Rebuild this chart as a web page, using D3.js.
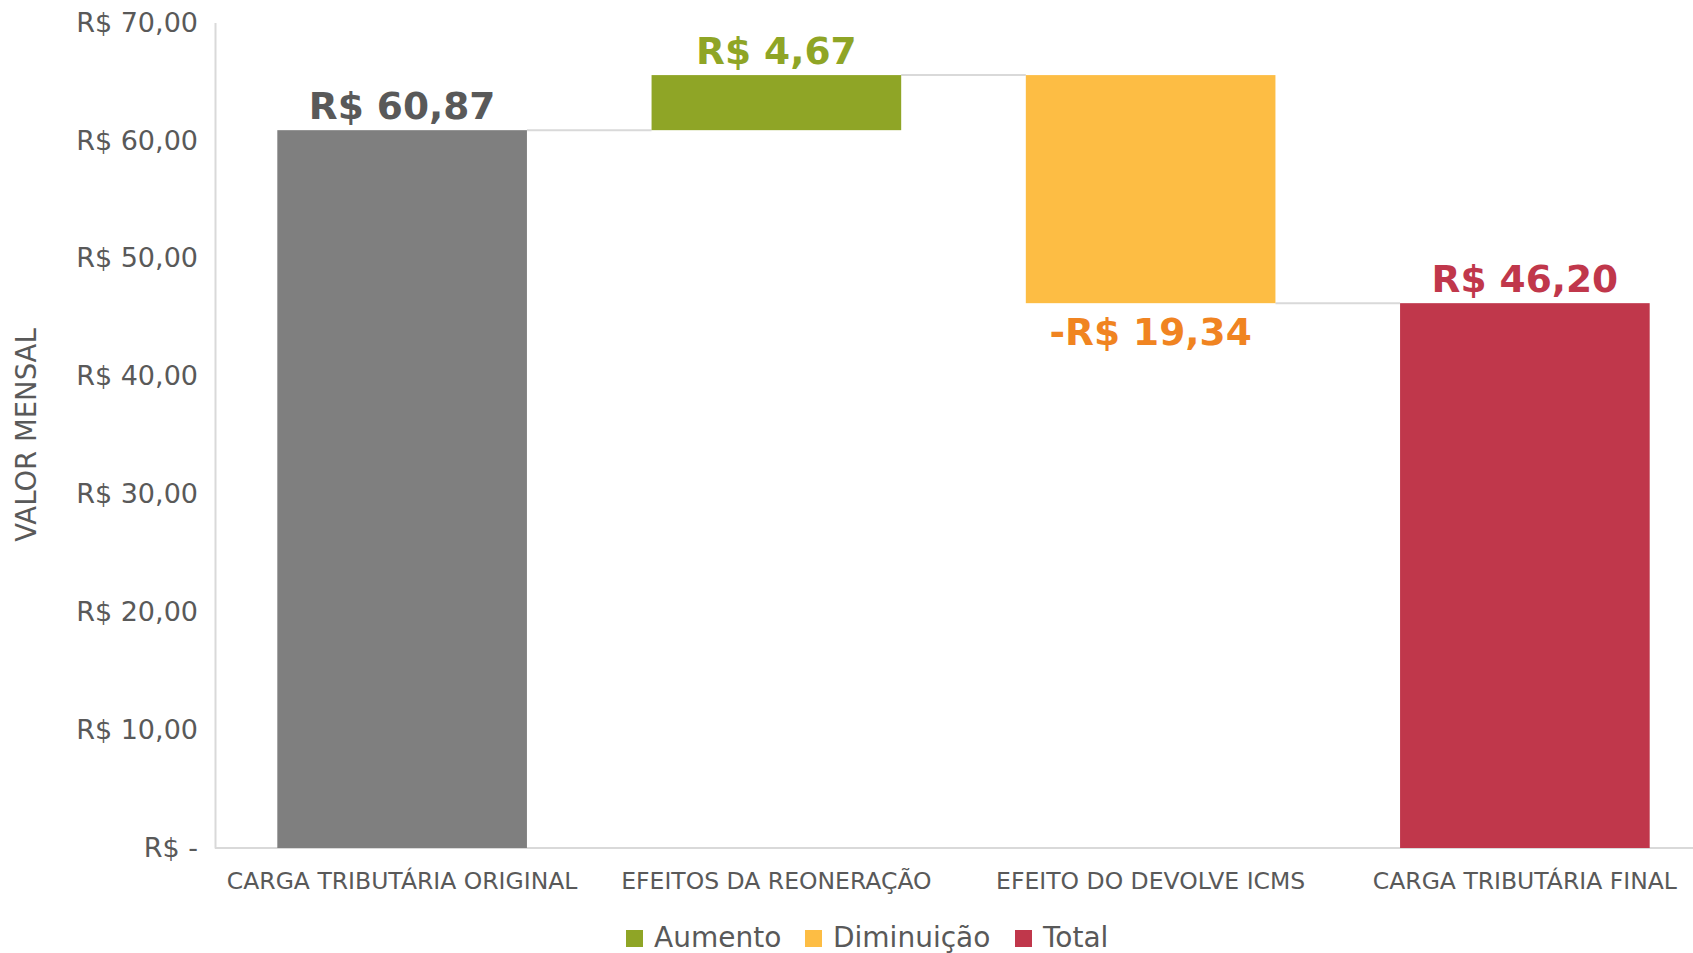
<!DOCTYPE html>
<html>
<head>
<meta charset="utf-8">
<script src="https://cdn.jsdelivr.net/npm/d3@7"></script>
<style>
body{margin:0;background:#fff;overflow:hidden;}
text{font-family:"DejaVu Sans",sans-serif;}
</style>
</head>
<body>
<script>
var W=1693, H=953;
var categories=["CARGA TRIBUTÁRIA ORIGINAL","EFEITOS DA REONERAÇÃO","EFEITO DO DEVOLVE ICMS","CARGA TRIBUTÁRIA FINAL"];
var values=[60.87,4.67,-19.34,46.20];
var kinds=["start","up","down","total"];
var valueLabels=["R$ 60,87","R$ 4,67","-R$ 19,34","R$ 46,20"];
var yTicks=[0,10,20,30,40,50,60,70];
var legendNames=["Aumento","Diminuição","Total"];
var legendKinds=["up","down","total"];

var fillColor={start:"#7f7f7f",up:"#8fa526",down:"#fdbd44",total:"#c0374b"};
var labelColor={start:"#595959",up:"#8fa526",down:"#f08421",total:"#c0374b"};

// running totals for waterfall
var bars=[];
var run=0;
values.forEach(function(v,i){
	var b={cat:categories[i],kind:kinds[i],label:valueLabels[i]};
	if(kinds[i]=="start"||kinds[i]=="total"){b.y0=0;b.y1=v;run=v;}
	else{b.y0=run;b.y1=run+v;run=run+v;}
	bars.push(b);
});

var svg=d3.select("body").append("svg").attr("width",W).attr("height",H);

var x=d3.scaleBand().domain(categories).range([215,1712]).paddingInner(0.333).paddingOuter(0.1665);
var y=d3.scaleLinear().domain([0,70]).range([848,22.5]);

// y axis
var yAxis=svg.append("g").attr("transform","translate(215,0)")
	.call(d3.axisLeft(y).tickValues(yTicks).tickSize(0).tickPadding(17)
	.tickFormat(function(d){return d==0?"R$ -":"R$ "+d.toFixed(2).replace(".",",");}));
yAxis.select(".domain").attr("stroke","#d9d9d9").attr("stroke-width",2);
yAxis.selectAll("text").attr("font-size",27).attr("fill","#595959");

// x axis
var xAxis=svg.append("g").attr("transform","translate(0,848)")
	.call(d3.axisBottom(x).tickSize(0).tickPadding(24));
xAxis.select(".domain").attr("stroke","#d9d9d9").attr("stroke-width",2).attr("d","M215,0H1693");
xAxis.selectAll("text").attr("font-size",23.5).attr("fill","#595959");

// connectors
for(var i=0;i<bars.length-1;i++){
	svg.append("line").attr("x1",x(bars[i].cat)+x.bandwidth()).attr("x2",x(bars[i+1].cat))
		.attr("y1",y(bars[i].y1)).attr("y2",y(bars[i].y1))
		.attr("stroke","#d9d9d9").attr("stroke-width",2);
}

// bars
svg.selectAll("rect.bar").data(bars).enter().append("rect").attr("class","bar")
	.attr("x",function(d){return x(d.cat);})
	.attr("width",x.bandwidth())
	.attr("y",function(d){return y(Math.max(d.y0,d.y1));})
	.attr("height",function(d){return Math.abs(y(d.y0)-y(d.y1));})
	.attr("fill",function(d){return fillColor[d.kind];});

// value labels
svg.selectAll("text.val").data(bars).enter().append("text").attr("class","val")
	.attr("x",function(d){return x(d.cat)+x.bandwidth()/2;})
	.attr("y",function(d){return d.kind=="down"?y(d.y1)+42:y(Math.max(d.y0,d.y1))-11;})
	.attr("text-anchor","middle").attr("font-size",37.5).attr("font-weight","bold")
	.attr("fill",function(d){return labelColor[d.kind];})
	.text(function(d){return d.label;});

// y title
svg.append("text").attr("transform","translate(36,435) rotate(-90)").attr("text-anchor","middle")
	.attr("font-size",27.5).attr("fill","#595959").text("VALOR MENSAL");

// legend
var lx=[626,805,1015];
legendNames.forEach(function(n,i){
	svg.append("rect").attr("x",lx[i]).attr("y",930).attr("width",17).attr("height",17).attr("fill",fillColor[legendKinds[i]]);
	svg.append("text").attr("x",lx[i]+28).attr("y",946.5).attr("font-size",28).attr("fill","#595959").text(n);
});
</script>
</body>
</html>
